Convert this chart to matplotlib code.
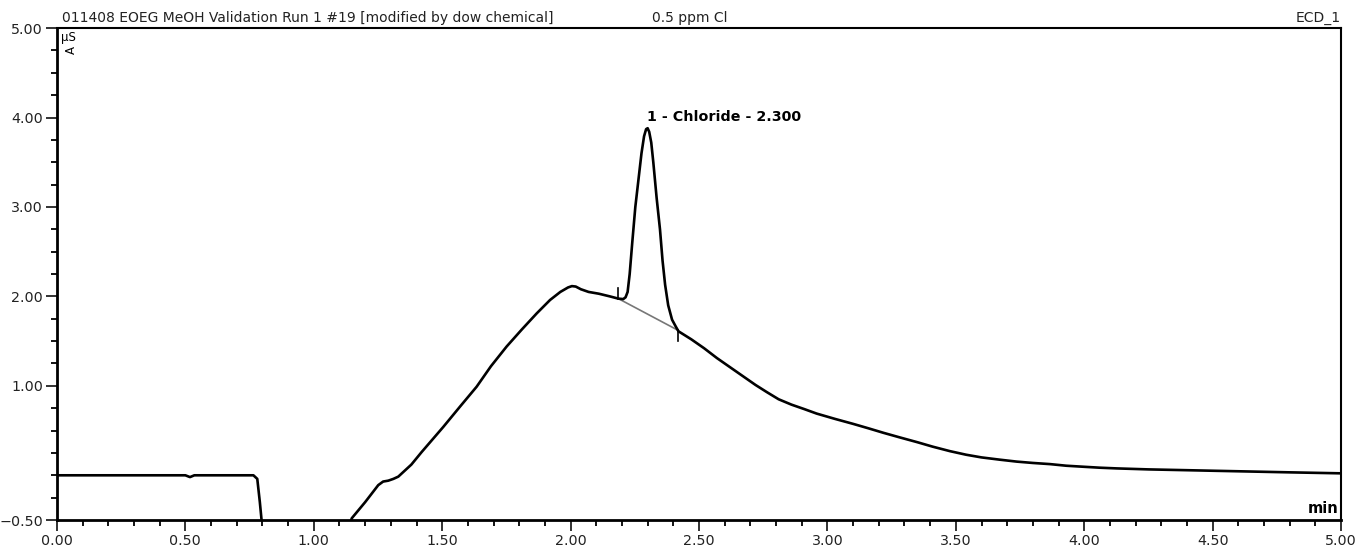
import matplotlib.pyplot as plt
from matplotlib.ticker import MultipleLocator, FixedLocator

# chromatogram trace (min, uS)
time = [0.00, 0.50, 0.518, 0.535, 0.765, 0.78, 0.79, 0.80, 0.85, 1.10, 1.14,
        1.148, 1.20, 1.251, 1.27, 1.29, 1.31, 1.329, 1.38, 1.42, 1.504, 1.57,
        1.634, 1.69, 1.751, 1.81, 1.868, 1.92, 1.96, 1.99, 2.005, 2.02,
        2.04, 2.07, 2.11, 2.153, 2.186, 2.205, 2.214, 2.222, 2.230, 2.240,
        2.252, 2.264, 2.276, 2.286, 2.294, 2.300, 2.306, 2.314, 2.322,
        2.335, 2.348, 2.358, 2.368, 2.380, 2.395, 2.410, 2.420, 2.47, 2.52,
        2.57, 2.62, 2.67, 2.72, 2.764, 2.81, 2.86, 2.91, 2.958, 3.03, 3.10,
        3.16, 3.218, 3.28, 3.35, 3.41, 3.477, 3.54, 3.60, 3.67, 3.737, 3.80,
        3.867, 3.93, 4.00, 4.06, 4.127, 4.25, 4.40, 4.516, 4.65, 4.80, 5.00]
signal = [0.0, 0.0, -0.02, 0.0, 0.0, -0.04, -0.3, -0.6, -1.0, -1.0, -0.55,
          -0.48, -0.30, -0.11, -0.07, -0.06, -0.04, -0.015, 0.12, 0.26, 0.54, 0.77,
          0.99, 1.22, 1.44, 1.63, 1.81, 1.96, 2.05, 2.10, 2.115, 2.11,
          2.08, 2.05, 2.03, 2.00, 1.975, 1.97, 1.99, 2.05, 2.25, 2.60,
          3.00, 3.30, 3.60, 3.79, 3.87, 3.88, 3.84, 3.72, 3.50,
          3.10, 2.75, 2.40, 2.13, 1.90, 1.74, 1.66, 1.61, 1.52, 1.42,
          1.31, 1.21, 1.11, 1.01, 0.93, 0.85, 0.79, 0.74, 0.69, 0.63, 0.575,
          0.525, 0.475, 0.425, 0.37, 0.32, 0.27, 0.23, 0.20, 0.175, 0.153, 0.138,
          0.125, 0.107, 0.095, 0.085, 0.077, 0.066, 0.057, 0.05, 0.042, 0.033, 0.022]

# integration baseline of peak 1
base_t = [2.186, 2.419]
base_y = [1.975, 1.62]
peak_name = "1 - Chloride - 2.300"
peak_t = 2.300
peak_h = 3.88

yticks = [-0.5, 1.0, 2.0, 3.0, 4.0, 5.0]

fig = plt.figure(figsize=(13.56, 5.5), dpi=100)
ax = fig.add_axes([0.042, 0.0545, 0.947, 0.8945])

ax.plot(base_t, base_y, color="#777777", lw=1.2, zorder=2)
# delimiter ticks at peak start (up) and end (down)
ax.plot([base_t[0], base_t[0]], [base_y[0], base_y[0] + 0.12], color="black", lw=1.2, zorder=3)
ax.plot([base_t[1], base_t[1]], [base_y[1], base_y[1] - 0.12], color="black", lw=1.2, zorder=3)
ax.plot(time, signal, color="black", lw=1.9, zorder=4, solid_joinstyle="round")

ax.text(peak_t - 0.003, peak_h + 0.05, peak_name, fontsize=10.3, fontweight="bold",
        ha="left", va="bottom")

ax.set_xlim(0, 5)
ax.set_ylim(-0.5, 5.0)
ax.xaxis.set_major_locator(MultipleLocator(0.5))
ax.xaxis.set_minor_locator(MultipleLocator(0.1))
ax.yaxis.set_major_locator(FixedLocator(yticks))
ax.yaxis.set_minor_locator(MultipleLocator(0.25))
ax.xaxis.set_major_formatter(lambda v, p: "%.2f" % v)
ax.yaxis.set_major_formatter(lambda v, p: ("\u22120.50" if v < 0 else "%.2f" % v))

ax.tick_params(which="major", length=8, width=1.3, labelsize=10.3, pad=2, colors="#222222")
ax.tick_params(which="minor", length=4, width=1.3)
ax.tick_params(axis="x", which="both", labelcolor="#222222")

for s in ["left", "bottom"]:
    ax.spines[s].set_linewidth(2.0)
for s in ["top", "right"]:
    ax.spines[s].set_linewidth(1.5)

fig.text(62 / 1356, 1 - 22 / 550, "011408 EOEG MeOH Validation Run 1 #19 [modified by dow chemical]",
         fontsize=10, ha="left", va="baseline", color="#222222")
fig.text(690 / 1356, 1 - 22 / 550, "0.5 ppm Cl", fontsize=10, ha="center", va="baseline", color="#222222")
fig.text(1341 / 1356, 1 - 22 / 550, "ECD_1", fontsize=10, ha="right", va="baseline", color="#222222")

ax.text(0.003, 0.993, "\u00b5S", transform=ax.transAxes, fontsize=8.5, ha="left", va="top")
ax.text(0.006, 0.963, "A", transform=ax.transAxes, fontsize=8.5, rotation=90, ha="left", va="top")
ax.text(0.998, 0.008, "min", transform=ax.transAxes, fontsize=10.5, fontweight="bold",
        ha="right", va="bottom")

fig.savefig("out.png", dpi=100)
